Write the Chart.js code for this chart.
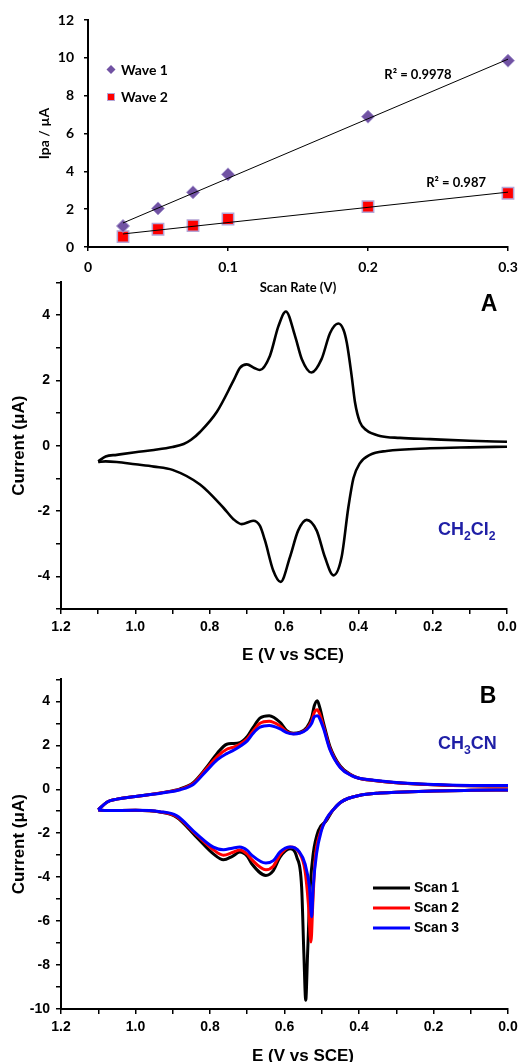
<!DOCTYPE html>
<html>
<head>
<meta charset="utf-8">
<script src="https://cdn.jsdelivr.net/npm/chart.js@4/dist/chart.umd.min.js"></script>
<style>
body { margin: 0; background: #fff; }
#wrap { position: relative; width: 520px; height: 1062px; }
canvas { position: absolute; left: 0; }
</style>
</head>
<body>
<div id="wrap">
  <canvas id="rate" width="520" height="300" style="top:0"></canvas>
  <canvas id="cvA" width="520" height="397" style="top:268px"></canvas>
  <canvas id="cvB" width="520" height="397" style="top:665px"></canvas>
</div>
<script>
// --- scan rate plot ---
const scanRate = [0.025, 0.05, 0.075, 0.1, 0.2, 0.3];
const wave1 = [1.11, 2.04, 2.89, 3.84, 6.89, 9.85];
const wave2 = [0.55, 0.94, 1.13, 1.48, 2.13, 2.84];
const fitX = [0.025, 0.3];
const fit1 = [1.27, 9.93];
const fit2 = [0.69, 2.9];

// --- CV in CH2Cl2 (panel A) ---
const aFwdE = [0.0, 0.1, 0.207, 0.288, 0.342, 0.378, 0.396, 0.409, 0.418, 0.431, 0.44, 0.454, 0.476, 0.499, 0.526, 0.552, 0.57, 0.595, 0.615, 0.638, 0.665, 0.68, 0.70, 0.718, 0.736, 0.781, 0.826, 0.85, 0.87, 0.9, 0.95, 1.0, 1.05, 1.08, 1.1];
const aFwdI = [0.12, 0.15, 0.2, 0.24, 0.3, 0.47, 0.73, 1.33, 2.14, 3.15, 3.55, 3.74, 3.45, 2.65, 2.24, 2.65, 3.35, 4.11, 3.66, 2.75, 2.32, 2.38, 2.49, 2.39, 1.99, 1.03, 0.42, 0.18, 0.05, -0.04, -0.13, -0.2, -0.28, -0.33, -0.48];
const aRevE = [1.1, 1.08, 1.05, 1.0, 0.95, 0.90, 0.826, 0.763, 0.736, 0.714, 0.683, 0.665, 0.651, 0.629, 0.609, 0.584, 0.562, 0.539, 0.512, 0.49, 0.467, 0.445, 0.427, 0.413, 0.396, 0.369, 0.324, 0.207, 0.1, 0.0];
const aRevI = [-0.5, -0.48, -0.5, -0.57, -0.64, -0.74, -1.19, -1.9, -2.25, -2.4, -2.3, -2.45, -2.91, -3.82, -4.17, -3.41, -2.6, -2.27, -2.6, -3.41, -3.97, -3.41, -1.9, -0.99, -0.54, -0.28, -0.16, -0.08, -0.05, -0.03];

// --- CV in CH3CN, three scans (panel B) ---
const bFwdE = [0.0, 0.1, 0.2, 0.3, 0.36, 0.4, 0.42, 0.45, 0.478, 0.495, 0.505, 0.512, 0.52, 0.527, 0.54, 0.558, 0.576, 0.594, 0.612, 0.641, 0.666, 0.684, 0.70, 0.72, 0.74, 0.755, 0.78, 0.809, 0.845, 0.88, 0.92, 1.0, 1.05, 1.077, 1.1];
const bFwdI1 = [0.15, 0.16, 0.21, 0.3, 0.4, 0.5, 0.65, 1.05, 1.95, 3.0, 3.7, 4.03, 3.8, 3.27, 2.82, 2.6, 2.55, 2.67, 3.05, 3.35, 3.24, 2.82, 2.4, 2.12, 2.08, 2.05, 1.65, 1.0, 0.3, 0.02, -0.13, -0.33, -0.45, -0.59, -0.94];
const bFwdI2 = [0.15, 0.16, 0.21, 0.3, 0.4, 0.5, 0.63, 1.0, 1.85, 2.85, 3.4, 3.62, 3.5, 3.1, 2.75, 2.57, 2.53, 2.62, 2.88, 3.1, 3.0, 2.65, 2.3, 2.05, 1.9, 1.82, 1.5, 0.95, 0.26, 0.0, -0.14, -0.33, -0.45, -0.59, -0.94];
const bFwdI3 = [0.17, 0.17, 0.22, 0.31, 0.41, 0.5, 0.62, 0.98, 1.8, 2.75, 3.2, 3.35, 3.3, 3.0, 2.72, 2.56, 2.52, 2.58, 2.75, 2.9, 2.82, 2.55, 2.2, 1.95, 1.75, 1.62, 1.35, 0.85, 0.22, -0.02, -0.15, -0.33, -0.45, -0.59, -0.94];
const bRevE1 = [1.1, 1.077, 1.0, 0.934, 0.89, 0.836, 0.791, 0.764, 0.74, 0.72, 0.70, 0.688, 0.65, 0.63, 0.612, 0.585, 0.567, 0.554, 0.548, 0.543, 0.538, 0.531, 0.523, 0.509, 0.487, 0.47, 0.45, 0.43, 0.40, 0.35, 0.3, 0.2, 0.1, 0.0];
const bRevI1 = [-0.94, -0.97, -0.96, -1.04, -1.27, -2.18, -2.94, -3.21, -3.05, -2.86, -3.05, -3.39, -3.92, -3.7, -3.09, -2.71, -3.09, -4.45, -7.48, -9.6, -7.48, -4.45, -2.94, -1.88, -1.42, -0.95, -0.6, -0.42, -0.28, -0.18, -0.14, -0.08, -0.05, -0.03];
const bRevE2 = [1.1, 1.077, 1.0, 0.934, 0.89, 0.836, 0.791, 0.764, 0.74, 0.72, 0.70, 0.688, 0.65, 0.63, 0.612, 0.585, 0.56, 0.545, 0.536, 0.529, 0.524, 0.518, 0.505, 0.487, 0.47, 0.45, 0.43, 0.40, 0.35, 0.3, 0.2, 0.1, 0.0];
const bRevI2 = [-0.94, -0.97, -0.96, -1.03, -1.24, -2.08, -2.75, -3.0, -2.88, -2.76, -2.95, -3.2, -3.66, -3.5, -2.98, -2.63, -2.9, -3.7, -5.2, -6.95, -5.2, -3.24, -2.03, -1.35, -0.95, -0.6, -0.42, -0.28, -0.18, -0.14, -0.08, -0.05, -0.03];
const bRevE3 = [1.1, 1.077, 1.0, 0.934, 0.89, 0.836, 0.791, 0.764, 0.74, 0.72, 0.70, 0.688, 0.65, 0.63, 0.612, 0.585, 0.56, 0.545, 0.533, 0.527, 0.523, 0.514, 0.501, 0.487, 0.47, 0.45, 0.43, 0.40, 0.35, 0.3, 0.2, 0.1, 0.0];
const bRevI3 = [-0.94, -0.97, -0.96, -1.02, -1.2, -2.03, -2.63, -2.75, -2.68, -2.63, -2.78, -3.0, -3.36, -3.25, -2.85, -2.63, -2.85, -3.39, -4.45, -5.8, -4.45, -2.94, -1.88, -1.33, -0.95, -0.6, -0.42, -0.28, -0.18, -0.14, -0.08, -0.05, -0.03];

const scanNames = ['Scan 1', 'Scan 2', 'Scan 3'];
const scanColors = ['#000000', '#ff0000', '#0000ff'];

function pts(xs, ys) {
  return xs.map((x, i) => ({x: x, y: ys[i]}));
}

const arial = 'Liberation Sans';
const calib = 'Lato';

// draws text with subscript pieces, left aligned
function rich(ctx, x, y, parts, size, color) {
  ctx.save();
  ctx.fillStyle = color;
  ctx.textBaseline = 'alphabetic';
  ctx.textAlign = 'left';
  parts.forEach(p => {
    let s = size, dy = 0;
    if (p[1] === 'sub') { s = size * 0.68; dy = size * 0.3; }
    ctx.font = 'bold ' + s + 'px "' + arial + '"';
    ctx.fillText(p[0], x, y + dy);
    x += ctx.measureText(p[0]).width;
  });
  ctx.restore();
}

function axisGrid(len) {
  return {drawOnChartArea: false, color: '#000', lineWidth: 1.5, tickLength: len};
}

// fixed axis box size, and no extra edge padding from the end labels
function fixHeight(h) {
  return s => { s.height = h; s.paddingLeft = 0; s.paddingRight = 0; };
}

// ---------- scan rate chart ----------
new Chart(document.getElementById('rate'), {
  type: 'scatter',
  data: {
    datasets: [
      {data: pts(fitX, fit1), showLine: true, borderColor: '#000', borderWidth: 1, pointRadius: 0, order: 0},
      {data: pts(fitX, fit2), showLine: true, borderColor: '#000', borderWidth: 1, pointRadius: 0, order: 0},
      {label: 'Wave 1', data: pts(scanRate, wave1), pointStyle: 'rectRot', pointRadius: 6.5, clip: false,
        backgroundColor: '#7152a3', borderColor: '#a898cf', borderWidth: 1, order: 1},
      {label: 'Wave 2', data: pts(scanRate, wave2), pointStyle: 'rect', pointRadius: 8, clip: false,
        backgroundColor: '#ff0000', borderColor: '#b4a5d6', borderWidth: 1.5, order: 1}
    ]
  },
  options: {
    responsive: false,
    animation: false,
    devicePixelRatio: 1,
    layout: {padding: {left: 0, right: 12, top: 20, bottom: 0}},
    plugins: {legend: {display: false}, tooltip: {enabled: false}},
    scales: {
      x: {
        type: 'linear', min: 0, max: 0.3,
        afterFit: fixHeight(53),
        border: {color: '#000', width: 2},
        grid: axisGrid(4),
        ticks: {stepSize: 0.1, color: '#000', padding: 8, maxRotation: 0,
          font: {family: calib, weight: 'bold', size: 14},
          callback: v => v === 0 ? '0' : v.toFixed(1)},
        title: {display: true, text: 'Scan Rate (V)', color: '#000',
          font: {family: calib, weight: 'bold', size: 13}, padding: {top: 0, bottom: 4}}
      },
      y: {
        min: 0, max: 12,
        afterFit: s => { s.width = 88; },
        border: {color: '#000', width: 2},
        grid: axisGrid(4),
        ticks: {stepSize: 2, color: '#000', padding: 10,
          font: {family: calib, weight: 'bold', size: 14}},
        title: {display: true, text: 'Ipa / µA', color: '#000',
          font: {family: calib, weight: 'bold', size: 14}, padding: {top: 36, bottom: 0}}
      }
    }
  },
  plugins: [{
    id: 'rateNotes',
    afterDraw(chart) {
      const ctx = chart.ctx;
      const xs = chart.scales.x, ys = chart.scales.y;
      ctx.save();
      ctx.fillStyle = '#000';
      ctx.font = 'bold 13px "' + calib + '"';
      ctx.textAlign = 'center';
      ctx.textBaseline = 'middle';
      ctx.fillText('R² = 0.9978', xs.getPixelForValue(0.2357), ys.getPixelForValue(9.09));
      ctx.fillText('R² = 0.987', xs.getPixelForValue(0.2629), ys.getPixelForValue(3.41));
      // legend
      ctx.fillStyle = '#7152a3';
      ctx.beginPath();
      ctx.moveTo(111, 65); ctx.lineTo(115.5, 69.5); ctx.lineTo(111, 74); ctx.lineTo(106.5, 69.5);
      ctx.closePath(); ctx.fill();
      ctx.fillStyle = '#ff0000';
      ctx.fillRect(107.5, 93.5, 7, 7);
      ctx.strokeStyle = '#b4a5d6'; ctx.lineWidth = 1;
      ctx.strokeRect(107.5, 93.5, 7, 7);
      ctx.fillStyle = '#000';
      ctx.font = 'bold 14px "' + calib + '"';
      ctx.textAlign = 'left';
      ctx.fillText('Wave 1', 121, 70);
      ctx.fillText('Wave 2', 121, 97);
      ctx.restore();
    }
  }]
});

// ---------- CV charts ----------
const tickFont = {family: arial, weight: 'bold', size: 14};

function cvScales(yMin, yMax, xHeight) {
  return {
    x: {
      type: 'linear', min: 0, max: 1.2, reverse: true,
      afterFit: fixHeight(xHeight),
      border: {color: '#000', width: 2},
      grid: axisGrid(5),
      ticks: {stepSize: 0.1, autoSkip: false, maxRotation: 0, color: '#000', font: tickFont, padding: 5,
        callback: v => Math.round(v * 10) % 2 === 0 ? v.toFixed(1) : ''}
    },
    y: {
      min: yMin, max: yMax,
      afterFit: s => { s.width = 61; },
      border: {color: '#000', width: 2},
      grid: axisGrid(5),
      ticks: {stepSize: 1, autoSkip: false, color: '#000', font: tickFont, padding: 6,
        callback: v => Math.round(v) % 2 === 0 ? String(Math.round(v)) : ''},
      title: {display: true, text: 'Current (μA)', color: '#000',
        font: {family: arial, weight: 'bold', size: 17}, padding: {top: 9, bottom: 0}}
    }
  };
}

function trace(es, is, color, width, order, label) {
  return {
    label: label,
    data: pts(es, is),
    showLine: true,
    borderColor: color,
    borderWidth: width,
    pointRadius: 0,
    cubicInterpolationMode: 'monotone',
    order: order
  };
}

function xTitle(ctx, text, x, y) {
  ctx.save();
  ctx.fillStyle = '#000';
  ctx.font = 'bold 17px "' + arial + '"';
  ctx.textAlign = 'center';
  ctx.textBaseline = 'middle';
  ctx.fillText(text, x, y);
  ctx.restore();
}

new Chart(document.getElementById('cvA'), {
  type: 'scatter',
  data: {
    datasets: [
      trace(aFwdE, aFwdI, '#000', 2.6, 0),
      trace(aRevE, aRevI, '#000', 2.6, 0)
    ]
  },
  options: {
    responsive: false,
    animation: false,
    devicePixelRatio: 1,
    layout: {padding: {left: 0, right: 13, top: 11, bottom: 0}},
    plugins: {legend: {display: false}, tooltip: {enabled: false}},
    scales: cvScales(-5, 5, 56)
  },
  plugins: [{
    id: 'notesA',
    afterDraw(chart) {
      const ctx = chart.ctx;
      xTitle(ctx, 'E (V vs SCE)', 293, 387);
      ctx.save();
      ctx.fillStyle = '#000';
      ctx.font = 'bold 23px "' + arial + '"';
      ctx.textAlign = 'center';
      ctx.textBaseline = 'middle';
      ctx.fillText('A', 489, 37);
      ctx.restore();
      rich(ctx, 438, 267, [['CH', 'n'], ['2', 'sub'], ['Cl', 'n'], ['2', 'sub']], 18, '#1f1fa6');
    }
  }]
});

const bSets = [];
const bFwd = [bFwdI1, bFwdI2, bFwdI3];
const bRevE = [bRevE1, bRevE2, bRevE3];
const bRevI = [bRevI1, bRevI2, bRevI3];
for (let k = 0; k < 3; k++) {
  bSets.push(trace(bFwdE, bFwd[k], scanColors[k], 3, 2 - k, scanNames[k]));
  bSets.push(trace(bRevE[k], bRevI[k], scanColors[k], 3, 2 - k));
}

new Chart(document.getElementById('cvB'), {
  type: 'scatter',
  data: {datasets: bSets},
  options: {
    responsive: false,
    animation: false,
    devicePixelRatio: 1,
    layout: {padding: {left: 0, right: 12, top: 14, bottom: 0}},
    plugins: {legend: {display: false}, tooltip: {enabled: false}},
    scales: cvScales(-10, 5, 53)
  },
  plugins: [{
    id: 'notesB',
    afterDraw(chart) {
      const ctx = chart.ctx;
      xTitle(ctx, 'E (V vs SCE)', 303, 391);
      ctx.save();
      ctx.fillStyle = '#000';
      ctx.font = 'bold 23px "' + arial + '"';
      ctx.textAlign = 'center';
      ctx.textBaseline = 'middle';
      ctx.fillText('B', 488, 32);
      // legend
      ctx.font = 'bold 14px "' + arial + '"';
      ctx.textAlign = 'left';
      scanNames.forEach((name, k) => {
        const y = 223 + k * 20;
        ctx.strokeStyle = scanColors[k];
        ctx.lineWidth = 3;
        ctx.beginPath();
        ctx.moveTo(373, y); ctx.lineTo(410, y);
        ctx.stroke();
        ctx.fillStyle = '#000';
        ctx.fillText(name, 414, y);
      });
      ctx.restore();
      rich(ctx, 438, 84, [['CH', 'n'], ['3', 'sub'], ['CN', 'n']], 18, '#1f1fa6');
    }
  }]
});
</script>
</body>
</html>
